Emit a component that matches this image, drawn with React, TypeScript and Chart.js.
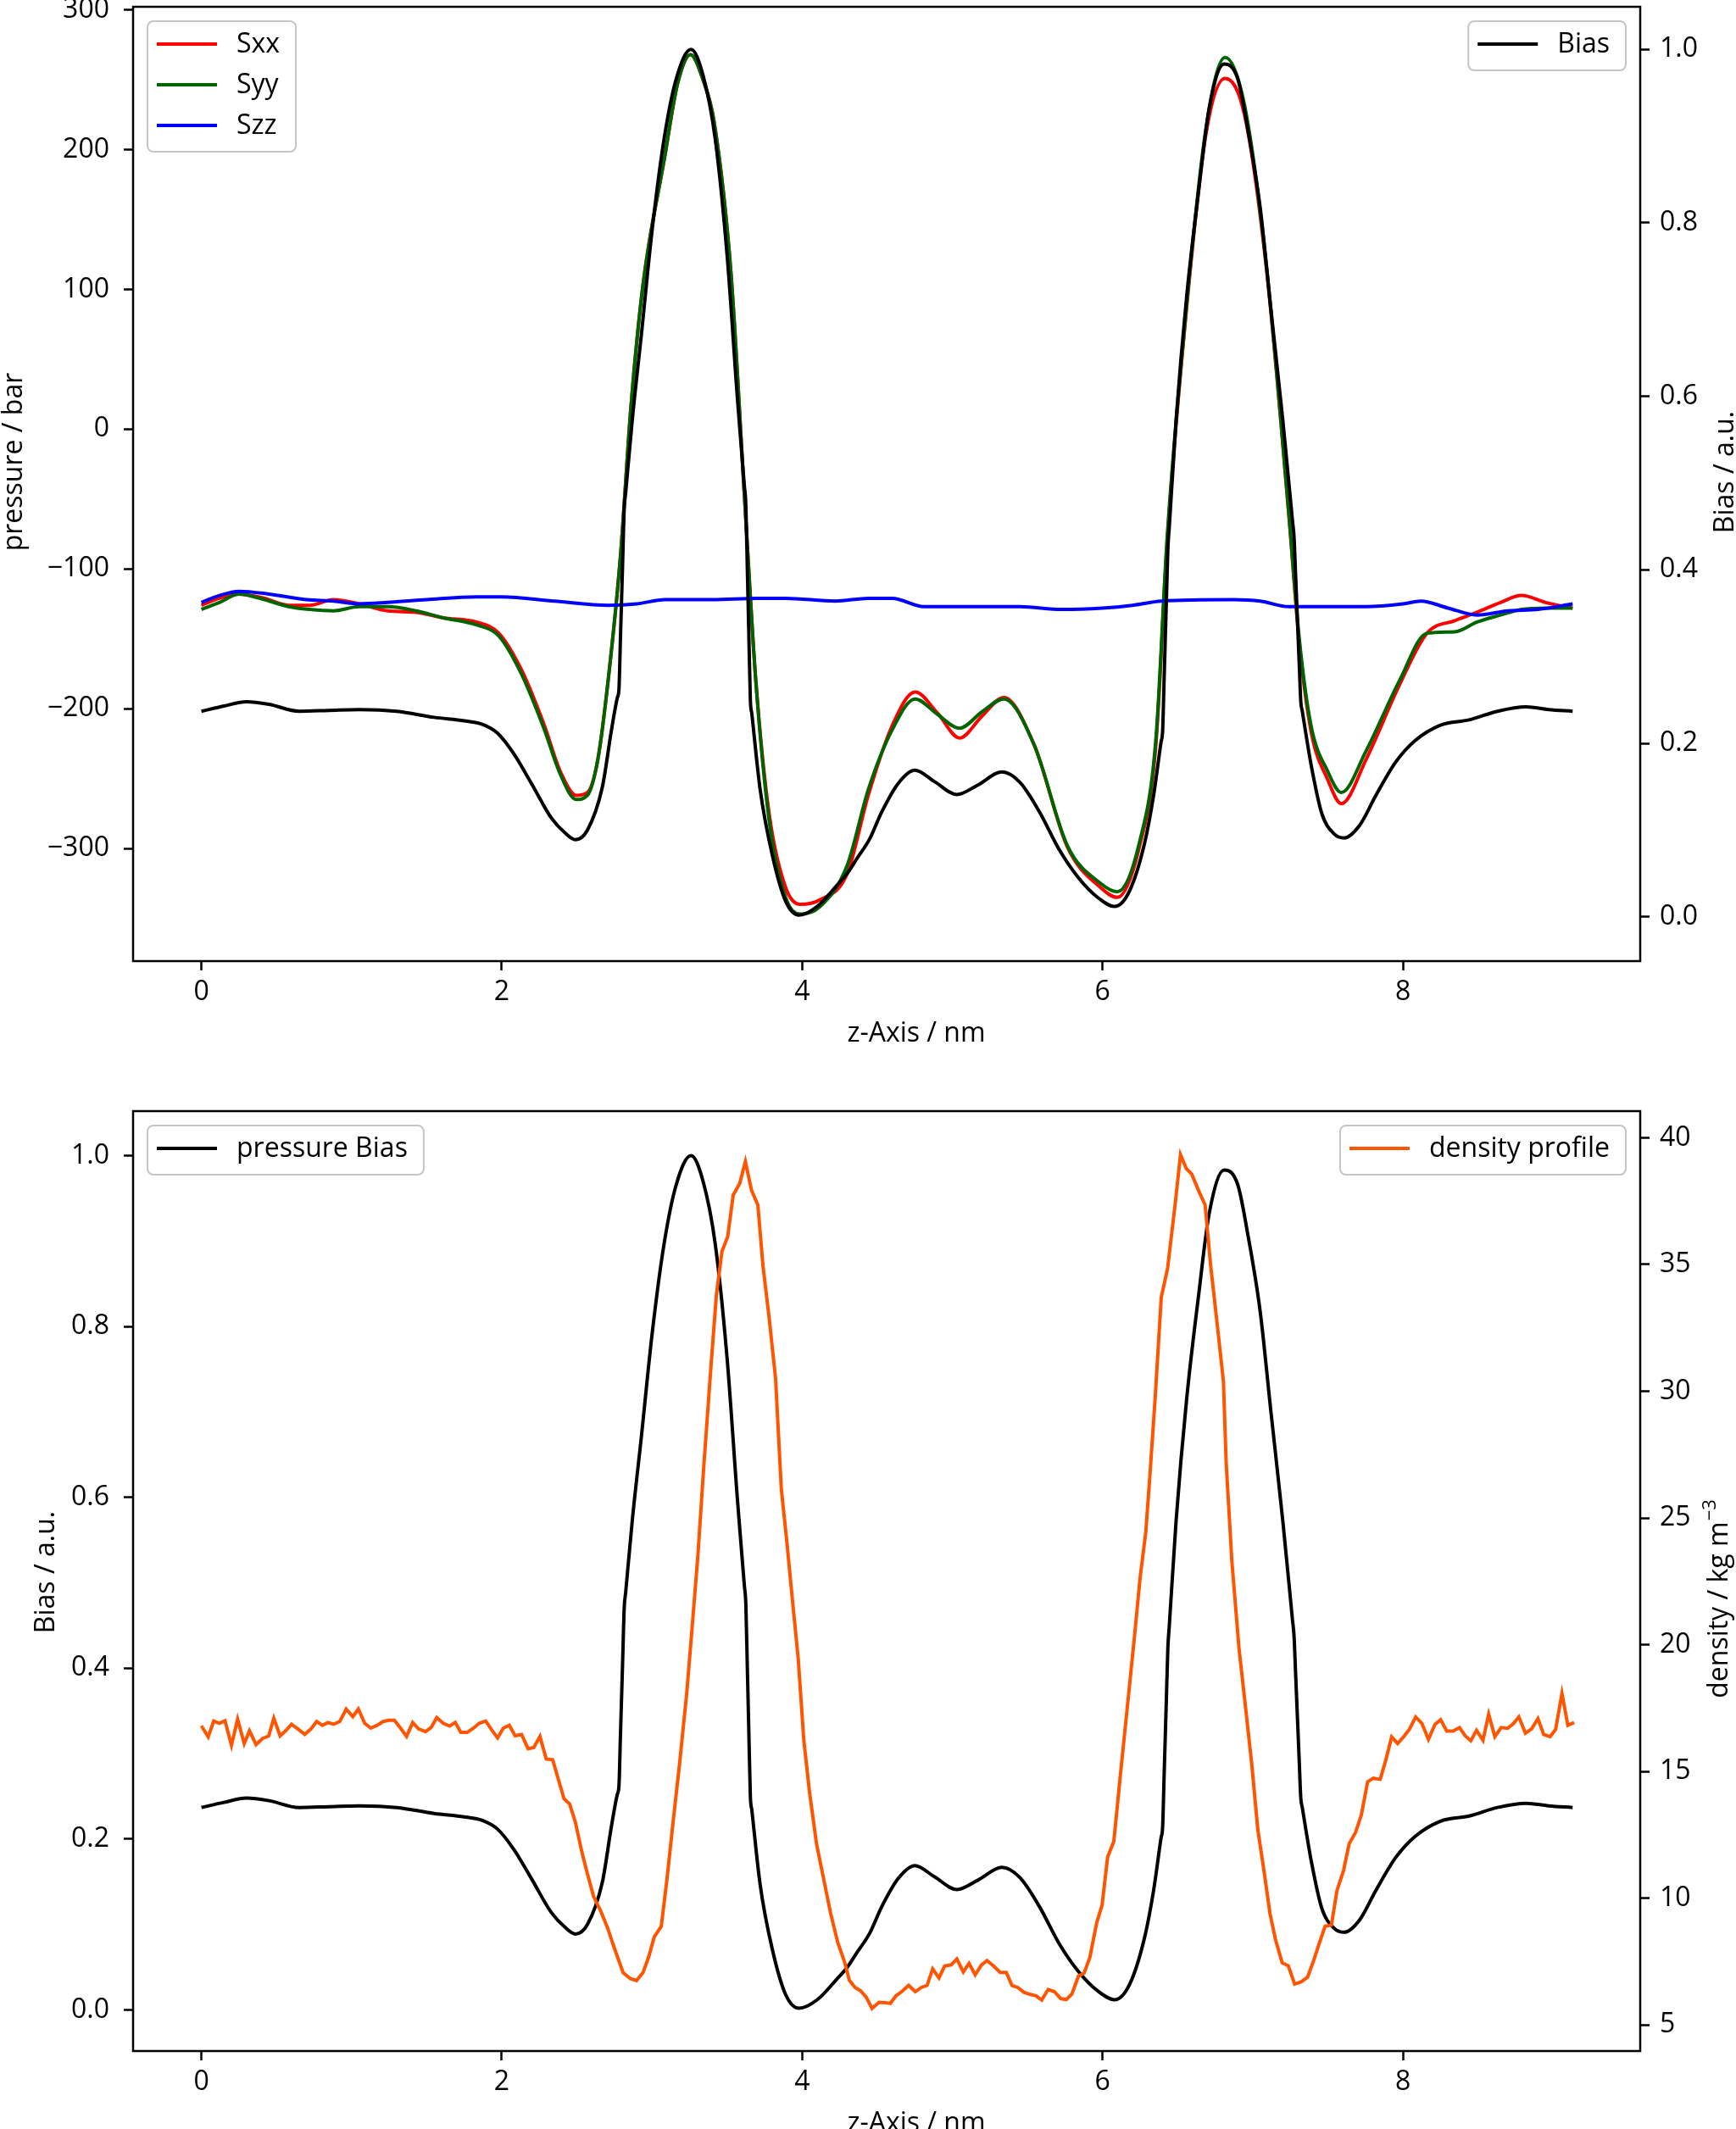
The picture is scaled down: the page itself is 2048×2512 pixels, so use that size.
import React, { useEffect, useRef } from 'react';
import { Chart, registerables } from 'chart.js';

Chart.register(...registerables);

const FONT = "'Open Sans', 'Noto Sans', sans-serif";
const TEXT_SIZE = 32;

// bias profile (same curve in both panels)
const biasZ = [0, 0.15, 0.3, 0.45, 0.65, 0.85, 1.05, 1.3, 1.55, 1.75, 1.87, 1.97, 2.08, 2.2, 2.33, 2.42, 2.49, 2.57, 2.67, 2.73, 2.77, 2.78, 2.79, 2.805, 2.815, 2.825, 2.87, 2.93, 3.0, 3.08, 3.16, 3.26, 3.34, 3.42, 3.5, 3.57, 3.615, 3.625, 3.635, 3.645, 3.655, 3.665, 3.72, 3.8, 3.89, 3.98, 4.1, 4.23, 4.3, 4.36, 4.45, 4.53, 4.64, 4.75, 4.88, 5.03, 5.17, 5.33, 5.45, 5.58, 5.71, 5.84, 5.97, 6.08, 6.18, 6.28, 6.34, 6.39, 6.4, 6.41, 6.425, 6.435, 6.445, 6.49, 6.56, 6.64, 6.71, 6.81, 6.9, 6.97, 7.05, 7.12, 7.2, 7.265, 7.275, 7.285, 7.31, 7.32, 7.33, 7.39, 7.46, 7.54, 7.61, 7.71, 7.82, 7.95, 8.08, 8.25, 8.44, 8.63, 8.82, 8.97, 9.13];
const biasValues = [0.237, 0.243, 0.248, 0.245, 0.237, 0.238, 0.239, 0.237, 0.230, 0.226, 0.222, 0.212, 0.188, 0.153, 0.114, 0.097, 0.089, 0.100, 0.150, 0.215, 0.253, 0.262, 0.321, 0.410, 0.470, 0.489, 0.575, 0.672, 0.790, 0.896, 0.965, 1.000, 0.970, 0.898, 0.763, 0.595, 0.497, 0.475, 0.400, 0.325, 0.250, 0.234, 0.147, 0.072, 0.018, 0.002, 0.012, 0.036, 0.050, 0.066, 0.090, 0.121, 0.154, 0.169, 0.156, 0.141, 0.152, 0.167, 0.155, 0.121, 0.078, 0.045, 0.022, 0.012, 0.030, 0.085, 0.140, 0.202, 0.214, 0.274, 0.364, 0.424, 0.451, 0.573, 0.715, 0.837, 0.932, 0.983, 0.966, 0.905, 0.817, 0.702, 0.573, 0.456, 0.438, 0.396, 0.290, 0.248, 0.237, 0.174, 0.119, 0.096, 0.091, 0.105, 0.140, 0.178, 0.203, 0.221, 0.227, 0.237, 0.242, 0.239, 0.237];

// pressure tensor components (bar)
const pressureZ = [0, 0.12, 0.25, 0.42, 0.58, 0.72, 0.88, 1.05, 1.24, 1.43, 1.61, 1.83, 1.98, 2.13, 2.28, 2.39, 2.495, 2.57, 2.64, 2.71, 2.79, 2.86, 2.94, 3.085, 3.17, 3.257, 3.34, 3.415, 3.525, 3.62, 3.69, 3.78, 3.89, 3.987, 4.115, 4.3, 4.44, 4.6, 4.752, 4.9, 5.048, 5.2, 5.343, 5.545, 5.766, 5.987, 6.098, 6.245, 6.355, 6.43, 6.54, 6.687, 6.816, 6.945, 7.093, 7.24, 7.31, 7.388, 7.5, 7.59, 7.756, 7.977, 8.16, 8.345, 8.494, 8.65, 8.79, 8.95, 9.13];
const sxxValues = [-126, -121, -118, -121, -126, -126, -122, -125, -130, -131, -135, -138, -146, -172, -211, -245, -262, -260, -236, -178, -91, 16, 103, 195, 247, 268, 250, 219, 113, -56, -178, -275, -328, -340, -337, -318, -262, -212, -188, -203, -221, -205, -192, -226, -299, -328, -335, -299, -226, -81, 64, 210, 251, 225, 113, -61, -153, -216, -251, -268, -236, -183, -146, -137, -131, -124, -119, -124, -128];
const syyValues = [-129, -124, -118, -122, -127, -129, -130, -127, -127, -130, -135, -140, -148, -175, -214, -247, -265, -262, -236, -178, -91, 16, 103, 195, 247, 268, 250, 219, 113, -56, -178, -280, -335, -347, -342, -312, -258, -215, -193, -204, -214, -202, -193, -226, -298, -325, -331, -296, -222, -78, 66, 214, 266, 232, 115, -60, -150, -212, -245, -260, -230, -180, -146, -145, -138, -133, -129, -128, -128];
const szzZ = [0, 0.12, 0.25, 0.45, 0.7, 0.88, 1.05, 1.24, 1.5, 1.83, 2.0, 2.35, 2.71, 2.9, 3.085, 3.4, 3.7, 3.89, 4.22, 4.44, 4.6, 4.81, 5.2, 5.45, 5.73, 6.0, 6.2, 6.39, 6.87, 7.05, 7.24, 7.5, 7.756, 8.0, 8.12, 8.3, 8.494, 8.7, 8.9, 9.13];
const szzValues = [-124, -119, -116, -118, -122, -123, -125, -124, -122, -120, -120, -123, -126, -125, -122, -122, -121, -121, -123, -121, -121, -127, -127, -127, -129, -128, -126, -123, -122, -123, -127, -127, -127, -125, -123, -128, -133, -130, -129, -125];

// density profile (kg m^-3)
const densityZ = [0.0, 0.045, 0.082, 0.12, 0.157, 0.2, 0.241, 0.285, 0.32, 0.364, 0.407, 0.448, 0.482, 0.524, 0.56, 0.6, 0.645, 0.688, 0.73, 0.767, 0.805, 0.842, 0.88, 0.921, 0.964, 1.008, 1.045, 1.087, 1.128, 1.17, 1.21, 1.247, 1.285, 1.326, 1.366, 1.407, 1.445, 1.492, 1.53, 1.567, 1.61, 1.652, 1.69, 1.727, 1.769, 1.812, 1.85, 1.893, 1.93, 1.972, 2.01, 2.05, 2.089, 2.132, 2.175, 2.213, 2.254, 2.296, 2.339, 2.377, 2.414, 2.452, 2.49, 2.53, 2.564, 2.611, 2.658, 2.705, 2.743, 2.808, 2.855, 2.897, 2.94, 2.978, 3.015, 3.062, 3.1, 3.137, 3.184, 3.231, 3.269, 3.306, 3.344, 3.391, 3.429, 3.466, 3.504, 3.541, 3.584, 3.622, 3.663, 3.705, 3.739, 3.78, 3.823, 3.861, 3.899, 3.936, 3.974, 4.011, 4.049, 4.096, 4.143, 4.19, 4.237, 4.284, 4.314, 4.352, 4.39, 4.427, 4.465, 4.512, 4.55, 4.587, 4.625, 4.662, 4.709, 4.753, 4.794, 4.832, 4.869, 4.911, 4.948, 4.992, 5.03, 5.073, 5.111, 5.152, 5.194, 5.231, 5.275, 5.318, 5.359, 5.397, 5.435, 5.476, 5.52, 5.557, 5.595, 5.638, 5.68, 5.721, 5.759, 5.796, 5.84, 5.877, 5.915, 5.962, 5.997, 6.034, 6.075, 6.119, 6.166, 6.213, 6.25, 6.288, 6.316, 6.35, 6.391, 6.433, 6.485, 6.519, 6.557, 6.594, 6.639, 6.683, 6.72, 6.763, 6.805, 6.823, 6.861, 6.908, 6.955, 6.993, 7.034, 7.077, 7.115, 7.152, 7.196, 7.237, 7.279, 7.322, 7.365, 7.407, 7.445, 7.482, 7.524, 7.561, 7.605, 7.642, 7.685, 7.723, 7.765, 7.802, 7.849, 7.884, 7.925, 7.965, 8.009, 8.043, 8.085, 8.126, 8.17, 8.213, 8.251, 8.292, 8.334, 8.377, 8.415, 8.452, 8.49, 8.533, 8.571, 8.612, 8.654, 8.697, 8.735, 8.772, 8.816, 8.857, 8.899, 8.937, 8.98, 9.017, 9.059, 9.098, 9.14];
const densityValues = [16.8, 16.36, 16.99, 16.9, 17.0, 16.03, 17.06, 16.1, 16.6, 16.06, 16.3, 16.4, 17.1, 16.4, 16.6, 16.86, 16.66, 16.46, 16.68, 16.97, 16.82, 16.93, 16.86, 16.97, 17.46, 17.16, 17.46, 16.9, 16.71, 16.82, 16.97, 17.02, 17.02, 16.71, 16.38, 16.93, 16.68, 16.57, 16.74, 17.12, 16.9, 16.79, 16.93, 16.54, 16.54, 16.71, 16.9, 16.99, 16.66, 16.32, 16.71, 16.82, 16.41, 16.46, 15.9, 15.94, 16.38, 15.49, 15.46, 14.68, 13.93, 13.71, 13.0, 11.9, 11.1, 10.07, 9.5, 8.82, 8.14, 7.06, 6.83, 6.75, 7.06, 7.68, 8.47, 8.89, 10.76, 12.81, 15.32, 18.06, 20.8, 23.54, 26.96, 30.84, 33.81, 35.52, 36.09, 37.74, 38.19, 39.06, 37.92, 37.35, 34.95, 32.9, 30.5, 26.16, 24.0, 21.71, 19.43, 16.23, 14.18, 12.13, 10.76, 9.39, 8.25, 7.45, 6.76, 6.48, 6.34, 6.09, 5.65, 5.89, 5.88, 5.85, 6.15, 6.31, 6.56, 6.31, 6.48, 6.56, 7.21, 6.85, 7.32, 7.37, 7.6, 7.09, 7.43, 6.98, 7.37, 7.54, 7.32, 7.07, 7.07, 6.56, 6.48, 6.29, 6.2, 6.15, 5.98, 6.4, 6.31, 6.04, 6.0, 6.22, 6.93, 7.04, 7.65, 9.05, 9.73, 11.63, 12.24, 14.87, 17.6, 20.34, 22.63, 24.45, 26.73, 29.7, 33.7, 34.84, 37.46, 39.33, 38.79, 38.56, 37.92, 37.35, 34.95, 32.67, 30.38, 27.19, 23.31, 19.89, 17.38, 15.32, 12.7, 10.99, 9.39, 8.36, 7.45, 7.33, 6.61, 6.7, 6.88, 7.56, 8.25, 8.89, 8.94, 10.3, 11.1, 12.15, 12.6, 13.28, 14.59, 14.73, 14.69, 15.4, 16.36, 16.1, 16.4, 16.66, 17.15, 16.9, 16.26, 16.85, 17.04, 16.59, 16.59, 16.73, 16.4, 16.21, 16.62, 16.23, 17.26, 16.37, 16.73, 16.7, 16.88, 17.15, 16.51, 16.68, 17.08, 16.46, 16.37, 16.66, 18.08, 16.82, 16.93];

// tick values
const zTicks = [0, 2, 4, 6, 8];
const pressureTicks = [-300, -200, -100, 0, 100, 200, 300];
const biasTicks = [0, 0.2, 0.4, 0.6, 0.8, 1.0];
const densityTicks = [5, 10, 15, 20, 25, 30, 35, 40];

const RED = '#ff0000';
const GREEN = '#006400';
const BLUE = '#0000ff';
const ORANGE = '#ff5500';

const pts = (xs: number[], ys: number[]) => xs.map((x, i) => ({ x, y: ys[i] }));
const minusLabel = (v: number) => (v < 0 ? '\u2212' + Math.abs(v) : String(v));
const oneDecimal = (v: number) => Number(v).toFixed(1);

// frame, matplotlib-like legends and axis titles
const decor = {
  id: 'decor',
  afterDatasetsDraw(chart: any) {
    const { ctx, chartArea: a } = chart;
    ctx.save();
    ctx.strokeStyle = '#000';
    ctx.lineWidth = 2.5;
    ctx.strokeRect(a.left, a.top, a.right - a.left, a.bottom - a.top);
    ctx.restore();
  },
  afterDraw(chart: any, _args: any, opts: any) {
    const { ctx, chartArea: a } = chart;
    ctx.save();
    ctx.font = `${TEXT_SIZE}px ${FONT}`;
    (opts.legends || []).forEach((lg: any) => {
      const textW = Math.max(...lg.items.map((it: any) => ctx.measureText(it.label).width));
      const w = 11 + 71 + 23 + textW + 19;
      const h = 58 + (lg.items.length - 1) * 48;
      const x = lg.side === 'left' ? a.left + 17 : a.right - 17 - w;
      const y = a.top + 17;
      ctx.beginPath();
      ctx.roundRect(x, y, w, h, 7);
      ctx.fillStyle = 'rgba(255,255,255,0.8)';
      ctx.fill();
      ctx.strokeStyle = '#c4c6c6';
      ctx.lineWidth = 2;
      ctx.stroke();
      lg.items.forEach((it: any, i: number) => {
        const ly = y + 27 + i * 48;
        ctx.beginPath();
        ctx.moveTo(x + 11, ly);
        ctx.lineTo(x + 82, ly);
        ctx.strokeStyle = it.color;
        ctx.lineWidth = 4;
        ctx.stroke();
        ctx.fillStyle = '#000';
        ctx.textAlign = 'left';
        ctx.textBaseline = 'middle';
        ctx.fillText(it.label, x + 105, ly + 1);
      });
    });
    (opts.titles || []).forEach((t: any) => {
      ctx.save();
      ctx.translate(t.x, t.y);
      if (t.rotate) ctx.rotate(-Math.PI / 2);
      ctx.fillStyle = '#000';
      ctx.textBaseline = 'alphabetic';
      ctx.textAlign = 'left';
      ctx.font = `${TEXT_SIZE}px ${FONT}`;
      const mainW = ctx.measureText(t.text).width;
      let supW = 0;
      if (t.sup) {
        ctx.font = `22px ${FONT}`;
        supW = ctx.measureText(t.sup).width;
      }
      const x0 = -(mainW + supW) / 2;
      ctx.font = `${TEXT_SIZE}px ${FONT}`;
      ctx.fillText(t.text, x0, 0);
      if (t.sup) {
        ctx.font = `22px ${FONT}`;
        ctx.fillText(t.sup, x0 + mainW + 1, -14);
      }
      ctx.restore();
    });
    ctx.restore();
  },
};

function makeScale(position: string, min: number, max: number, ticks: number[], format: (v: number) => string, size: number) {
  return {
    type: 'linear',
    position,
    min,
    max,
    afterBuildTicks: (s: any) => {
      s.ticks = ticks.map((value) => ({ value }));
    },
    afterFit: (s: any) => {
      if (position === 'bottom') s.height = size;
      else s.width = size;
      s.paddingTop = 0;
      s.paddingBottom = 0;
      s.paddingLeft = 0;
      s.paddingRight = 0;
    },
    grid: { display: true, drawOnChartArea: false, drawTicks: true, tickLength: 11, tickWidth: 2.5, tickColor: '#000' },
    border: { display: false },
    ticks: {
      color: '#000',
      font: { family: FONT, size: TEXT_SIZE },
      padding: position === 'bottom' ? 7 : position === 'left' ? 17 : 12,
      autoSkip: false,
      maxRotation: 0,
      callback: (v: any) => format(Number(v)),
    },
    title: { display: false },
  };
}

const baseOptions = (top: number) => ({
  animation: false,
  responsive: false,
  maintainAspectRatio: false,
  layout: { padding: { top, left: 0, right: 0, bottom: 0 } },
  elements: { point: { radius: 0 }, line: { borderWidth: 4 } },
});

function topConfig(): any {
  return {
    type: 'line',
    data: {
      datasets: [
        { label: 'Bias', data: pts(biasZ, biasValues), yAxisID: 'y2', borderColor: '#000', cubicInterpolationMode: 'monotone' },
        { label: 'Szz', data: pts(szzZ, szzValues), yAxisID: 'y', borderColor: BLUE, cubicInterpolationMode: 'monotone' },
        { label: 'Syy', data: pts(pressureZ, syyValues), yAxisID: 'y', borderColor: GREEN, cubicInterpolationMode: 'monotone' },
        { label: 'Sxx', data: pts(pressureZ, sxxValues), yAxisID: 'y', borderColor: RED, cubicInterpolationMode: 'monotone' },
      ],
    },
    options: {
      ...baseOptions(8),
      plugins: {
        legend: { display: false },
        tooltip: { enabled: false },
        decor: {
          legends: [
            { side: 'left', items: [{ label: 'Sxx', color: RED }, { label: 'Syy', color: GREEN }, { label: 'Szz', color: BLUE }] },
            { side: 'right', items: [{ label: 'Bias', color: '#000' }] },
          ],
          titles: [
            { text: 'z-Axis / nm', x: 1081, y: 1229 },
            { text: 'pressure / bar', x: 26, y: 545, rotate: true },
            { text: 'Bias / a.u.', x: 2045, y: 557, rotate: true },
          ],
        },
      },
      scales: {
        x: makeScale('bottom', -0.455, 9.58, zTicks, String, 122),
        y: makeScale('left', -380.6, 302.2, pressureTicks, minusLabel, 157),
        y2: makeScale('right', -0.051, 1.049, biasTicks, oneDecimal, 113),
      },
    },
    plugins: [decor],
  };
}

function bottomConfig(): any {
  return {
    type: 'line',
    data: {
      datasets: [
        { label: 'density profile', data: pts(densityZ, densityValues), yAxisID: 'y2', borderColor: ORANGE, tension: 0 },
        { label: 'pressure Bias', data: pts(biasZ, biasValues), yAxisID: 'y', borderColor: '#000', cubicInterpolationMode: 'monotone' },
      ],
    },
    options: {
      ...baseOptions(55),
      plugins: {
        legend: { display: false },
        tooltip: { enabled: false },
        decor: {
          legends: [
            { side: 'left', items: [{ label: 'pressure Bias', color: '#000' }] },
            { side: 'right', items: [{ label: 'density profile', color: ORANGE }] },
          ],
          titles: [
            { text: 'z-Axis / nm', x: 1081, y: 1259 },
            { text: 'Bias / a.u.', x: 64, y: 599, rotate: true },
            { text: 'density / kg m', sup: '\u22123', x: 2038, y: 631, rotate: true },
          ],
        },
      },
      scales: {
        x: makeScale('bottom', -0.455, 9.58, zTicks, String, 92),
        y: makeScale('left', -0.048, 1.052, biasTicks, oneDecimal, 157),
        y2: makeScale('right', 3.97, 41.05, densityTicks, String, 113),
      },
    },
    plugins: [decor],
  };
}

function Panel({ build }: { build: () => any }) {
  const canvasRef = useRef<HTMLCanvasElement | null>(null);

  useEffect(() => {
    if (!canvasRef.current) return;
    const chart = new Chart(canvasRef.current, build());
    return () => chart.destroy();
  }, [build]);

  return <canvas ref={canvasRef} width={2048} height={1256} style={{ display: 'block', width: 2048, height: 1256 }} />;
}

export default function App() {
  return (
    <div style={{ position: 'absolute', left: 0, top: 0, width: 2048, height: 2512, background: '#fff', overflow: 'hidden' }}>
      <Panel build={topConfig} />
      <Panel build={bottomConfig} />
    </div>
  );
}
